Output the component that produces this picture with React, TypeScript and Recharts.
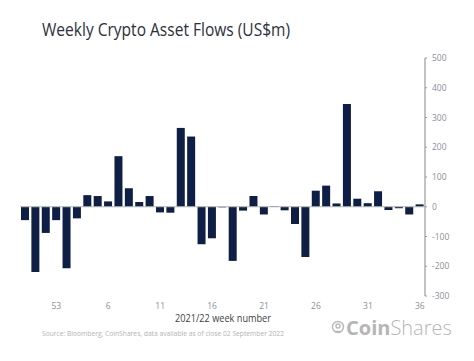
import { BarChart, Bar, XAxis, YAxis, ReferenceLine } from "recharts";

// week numbers (2021 wk 50 -> 2022 wk 36)
const weeks = [
  "50", "51", "52", "53", "2", "3", "4", "5", "6", "7", "8", "9", "10",
  "11", "12", "13", "14", "15", "16", "17", "18", "19", "20", "21", "22",
  "23", "24", "25", "26", "27", "28", "29", "30", "31", "32", "33", "34",
  "35", "36",
];

// weekly flows, US$m
const flows = [
  -45, -219, -88, -45, -207, -39, 39, 36, 18, 170, 62, 16, 36, -19, -20,
  265, 236, -126, -106, -2, -182, -13, 36, -26, 2, -12, -58, -169, 54, 71,
  11, 345, 27, 12, 52, -11, -5, -26, 8,
];

const weekTicks = ["53", "6", "11", "16", "21", "26", "31", "36"];
const flowTicks = [-300, -200, -100, 0, 100, 200, 300, 400, 500];

const data = weeks.map((w, i) => ({ week: w, flow: flows[i] }));

const NAVY = "#0f1e45";
const FONT = "'Open Sans', 'Noto Sans', sans-serif";

export default function App() {
  return (
    <div
      style={{
        position: "absolute",
        top: 0,
        left: 0,
        width: 474,
        height: 361,
        background: "#fff",
        fontFamily: FONT,
      }}
    >
      <BarChart
        width={474}
        height={361}
        data={data}
        margin={{ top: 58, right: 9, left: 20, bottom: 45 }}
      >
        <XAxis
          dataKey="week"
          ticks={weekTicks}
          interval={0}
          height={20}
          axisLine={false}
          tickLine={false}
          tickSize={5}
          tick={{ fill: "#8b8f99", fontSize: 8.5, fontFamily: FONT }}
        />
        <YAxis
          orientation="right"
          width={40}
          domain={[-300, 500]}
          ticks={flowTicks}
          interval={0}
          allowDataOverflow
          axisLine={{ stroke: "#9a9a9a", strokeWidth: 1.2 }}
          tickLine={{ stroke: "#9a9a9a" }}
          tickSize={2}
          tickMargin={5}
          tick={{ fill: "#8b8f99", fontSize: 8.5, fontFamily: FONT }}
        />
        <ReferenceLine y={0} stroke="#b5b5b5" strokeWidth={1} />
        <Bar dataKey="flow" fill={NAVY} barSize={8} isAnimationActive={false} />
      </BarChart>

      <svg
        width={474}
        height={361}
        style={{ position: "absolute", top: 0, left: 0, pointerEvents: "none" }}
      >
        <text
          x={42}
          y={36}
          fontSize={18}
          fill="#2c303b"
          fontFamily={FONT}
          textLength={248}
          lengthAdjust="spacingAndGlyphs"
        >
          Weekly Crypto Asset Flows (US$m)
        </text>
        <text
          x={175}
          y={322}
          fontSize={11}
          fill="#3b3f4a"
          fontFamily={FONT}
          textLength={96}
          lengthAdjust="spacingAndGlyphs"
        >
          2021/22 week number
        </text>
        <text
          x={42}
          y={335.5}
          fontSize={7}
          fill="#b3b3b3"
          fontFamily={FONT}
          textLength={242}
          lengthAdjust="spacingAndGlyphs"
        >
          Source: Bloomberg, CoinShares, data available as of close 02 September 2022
        </text>
        {/* logo */}
        <g stroke="#b8b8b8" fill="none" strokeWidth={1.4}>
          <circle cx={338} cy={327} r={5.5} />
          <circle cx={338} cy={326} r={2} />
          <path d="M334.5 331.5 L341.5 331.5" />
        </g>
        <text x={346} y={334.5} fontSize={20} fill="#b5b5b5" fontFamily={FONT}>
          <tspan fontWeight={700}>Coin</tspan>
          <tspan fontWeight={300}>Shares</tspan>
        </text>
      </svg>
    </div>
  );
}
